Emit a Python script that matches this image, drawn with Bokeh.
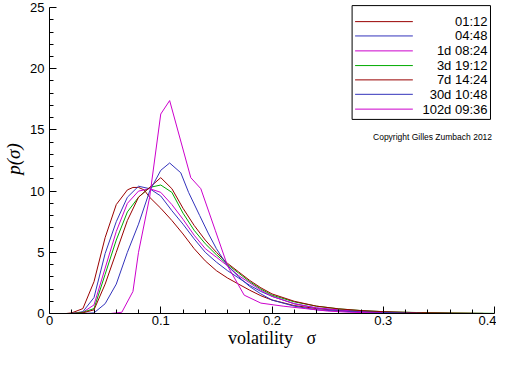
from bokeh.plotting import figure
from bokeh.models import FixedTicker, Range1d, Label, Arrow, BoxAnnotation
from bokeh.embed import file_html
from bokeh.resources import INLINE

# ---- data ----
sig_0112 = [0.015, 0.02, 0.03, 0.04, 0.05, 0.06, 0.07, 0.075, 0.08, 0.085, 0.09, 0.10, 0.11, 0.12, 0.13, 0.14, 0.15,
            0.16, 0.17, 0.18, 0.19, 0.20, 0.22, 0.24, 0.26, 0.28, 0.30, 0.33, 0.36, 0.38]
p_0112 = [0.0, 0.05, 0.4, 2.6, 6.2, 8.9, 10.1, 10.3, 10.3, 10.1, 9.5, 8.6, 7.6, 6.5, 5.3, 4.3, 3.5,
          2.9, 2.4, 1.9, 1.45, 1.1, 0.65, 0.4, 0.25, 0.15, 0.1, 0.05, 0.02, 0.01]

sig_0448 = [0.02, 0.03, 0.04, 0.05, 0.06, 0.07, 0.08, 0.09, 0.10, 0.11, 0.12, 0.13, 0.14, 0.15, 0.16, 0.17, 0.18,
            0.19, 0.20, 0.22, 0.24, 0.26, 0.28, 0.30, 0.33, 0.36]
p_0448 = [0.0, 0.15, 1.3, 4.9, 7.5, 9.5, 10.4, 10.2, 9.6, 8.4, 7.3, 6.1, 5.0, 4.2, 3.5, 2.9, 2.3,
          1.8, 1.4, 0.8, 0.45, 0.28, 0.17, 0.1, 0.04, 0.01]

sig_1d = [0.02, 0.03, 0.04, 0.05, 0.06, 0.07, 0.08, 0.09, 0.10, 0.11, 0.12, 0.13, 0.14, 0.15, 0.16, 0.17, 0.18,
          0.19, 0.20, 0.22, 0.24, 0.26, 0.28, 0.30, 0.33, 0.36]
p_1d = [0.0, 0.1, 0.7, 3.7, 6.7, 9.0, 10.0, 10.2, 9.9, 8.9, 7.7, 6.4, 5.3, 4.6, 3.9, 3.1, 2.5,
        1.9, 1.4, 0.8, 0.45, 0.28, 0.17, 0.1, 0.04, 0.01]

sig_3d = [0.02, 0.03, 0.04, 0.05, 0.06, 0.07, 0.08, 0.09, 0.10, 0.11, 0.12, 0.13, 0.14, 0.15, 0.16, 0.17, 0.18,
          0.19, 0.20, 0.22, 0.24, 0.26, 0.28, 0.30, 0.33, 0.36, 0.40]
p_3d = [0.0, 0.1, 0.4, 3.2, 6.0, 8.3, 9.5, 10.3, 10.5, 9.9, 8.2, 6.8, 5.7, 4.8, 4.0, 3.3, 2.6,
        2.0, 1.5, 0.95, 0.6, 0.38, 0.24, 0.15, 0.08, 0.04, 0.01]

sig_7d = [0.02, 0.03, 0.04, 0.05, 0.06, 0.07, 0.08, 0.09, 0.10, 0.11, 0.12, 0.13, 0.14, 0.15, 0.16, 0.17, 0.18,
          0.19, 0.20, 0.22, 0.24, 0.26, 0.28, 0.30, 0.33, 0.36, 0.39]
p_7d = [0.0, 0.05, 0.3, 2.4, 5.0, 7.6, 9.5, 10.3, 11.1, 10.2, 8.6, 7.2, 6.0, 5.0, 4.1, 3.4, 2.7,
        2.1, 1.6, 1.0, 0.6, 0.38, 0.24, 0.15, 0.07, 0.03, 0.01]

sig_30d = [0.03, 0.04, 0.05, 0.06, 0.07, 0.08, 0.09, 0.10, 0.108, 0.118, 0.125, 0.135, 0.143, 0.15, 0.16, 0.17,
           0.18, 0.19, 0.20, 0.22, 0.24, 0.26, 0.28, 0.30, 0.335]
p_30d = [0.0, 0.05, 0.8, 2.4, 5.0, 7.3, 10.0, 11.7, 12.3, 11.5, 9.9, 8.0, 6.5, 5.3, 3.9, 3.0,
         2.2, 1.6, 1.1, 0.6, 0.3, 0.2, 0.12, 0.07, 0.01]

sig_102d = [0.05, 0.055, 0.065, 0.075, 0.08, 0.09, 0.10, 0.108, 0.127, 0.136, 0.149, 0.16, 0.175, 0.19, 0.21,
            0.23, 0.25, 0.27, 0.30]
p_102d = [0.0, 0.0, 0.1, 1.8, 5.0, 9.5, 16.3, 17.4, 11.1, 10.2, 6.8, 3.9, 1.5, 0.85, 0.6,
          0.4, 0.2, 0.1, 0.03]

series_labels = ["01:12", "04:48", "1d 08:24", "3d 19:12", "7d 14:24", "30d 10:48", "102d 09:36"]
series_colors = ["#990000", "#3333BB", "#CC00CC", "#00AA00", "#990000", "#3333BB", "#CC00CC"]
series_x = [sig_0112, sig_0448, sig_1d, sig_3d, sig_7d, sig_30d, sig_102d]
series_y = [p_0112, p_0448, p_1d, p_3d, p_7d, p_30d, p_102d]

x_ticks = [0, 0.1, 0.2, 0.3, 0.4]
x_tick_labels = ["0", "0.1", "0.2", "0.3", "0.4"]
x_minor = [0.02, 0.04, 0.06, 0.08, 0.12, 0.14, 0.16, 0.18, 0.22, 0.24, 0.26, 0.28, 0.32, 0.34, 0.36, 0.38]
y_ticks = [0, 5, 10, 15, 20, 25]
y_minor = [v for v in range(1, 25) if v % 5 != 0]

# ---- figure ----
p = figure(width=496, height=350, output_backend="svg", toolbar_location=None,
           x_range=Range1d(0, 0.4), y_range=Range1d(0, 25.25),
           min_border_left=47, min_border_right=2, min_border_top=4, min_border_bottom=30)
p.outline_line_color = None
p.xgrid.visible = False
p.ygrid.visible = False
p.background_fill_color = "white"
p.border_fill_color = "white"

p.xaxis.ticker = FixedTicker(ticks=x_ticks, minor_ticks=x_minor)
p.xaxis.major_label_overrides = dict(zip(x_ticks, x_tick_labels))
p.yaxis.ticker = FixedTicker(ticks=y_ticks, minor_ticks=y_minor)
p.yaxis.bounds = (0, 25)
for ax in (p.xaxis[0], p.yaxis[0]):
    ax.axis_line_color = "black"
    ax.major_tick_line_color = "black"
    ax.minor_tick_line_color = "black"
    ax.major_tick_in = 7
    ax.major_tick_out = 0
    ax.minor_tick_in = 4
    ax.minor_tick_out = 0
    ax.major_label_text_font = "Liberation Sans"
    ax.major_label_text_font_size = "13px"
    ax.major_label_text_color = "black"
    ax.axis_label_text_font = "Liberation Serif"
    ax.axis_label_text_color = "black"
p.xaxis.major_label_standoff = 2
p.yaxis.major_label_standoff = 5
p.xaxis.axis_label = "volatility\u2002 σ"
p.xaxis.axis_label_text_font_size = "18px"
p.xaxis.axis_label_text_font_style = "normal"
p.xaxis.axis_label_standoff = 0
p.yaxis.axis_label = "p(σ)"
p.yaxis.axis_label_text_font_size = "19px"
p.yaxis.axis_label_text_font_style = "italic"
p.yaxis.axis_label_standoff = 3

for xs, ys, c in zip(series_x, series_y, series_colors):
    p.line(xs, ys, line_color=c, line_width=1)

# ---- legend (drawn by hand for right-aligned labels) ----
p.add_layout(BoxAnnotation(left=0.272, right=0.3964, top=25.16, bottom=15.86,
                           fill_color="white", fill_alpha=1.0,
                           line_color="black", line_alpha=1.0, line_width=1))
row_y = [23.85, 22.68, 21.46, 20.26, 19.09, 17.91, 16.70]
for lab, c, ry in zip(series_labels, series_colors, row_y):
    p.add_layout(Arrow(end=None, x_start=0.2747, y_start=ry, x_end=0.3266, y_end=ry,
                       line_color=c, line_width=1))
    p.add_layout(Label(x=0.3937, y=ry, text=lab,
                       text_align="right", text_baseline="middle",
                       text_font="Liberation Sans", text_font_size="13px", text_color="black"))

p.add_layout(Label(x=0.2908, y=14.4, text="Copyright Gilles Zumbach 2012",
                   text_align="left", text_baseline="middle",
                   text_font="Liberation Sans", text_font_size="8.5px", text_color="black"))

open("out.html", "w").write(file_html(p, INLINE))
